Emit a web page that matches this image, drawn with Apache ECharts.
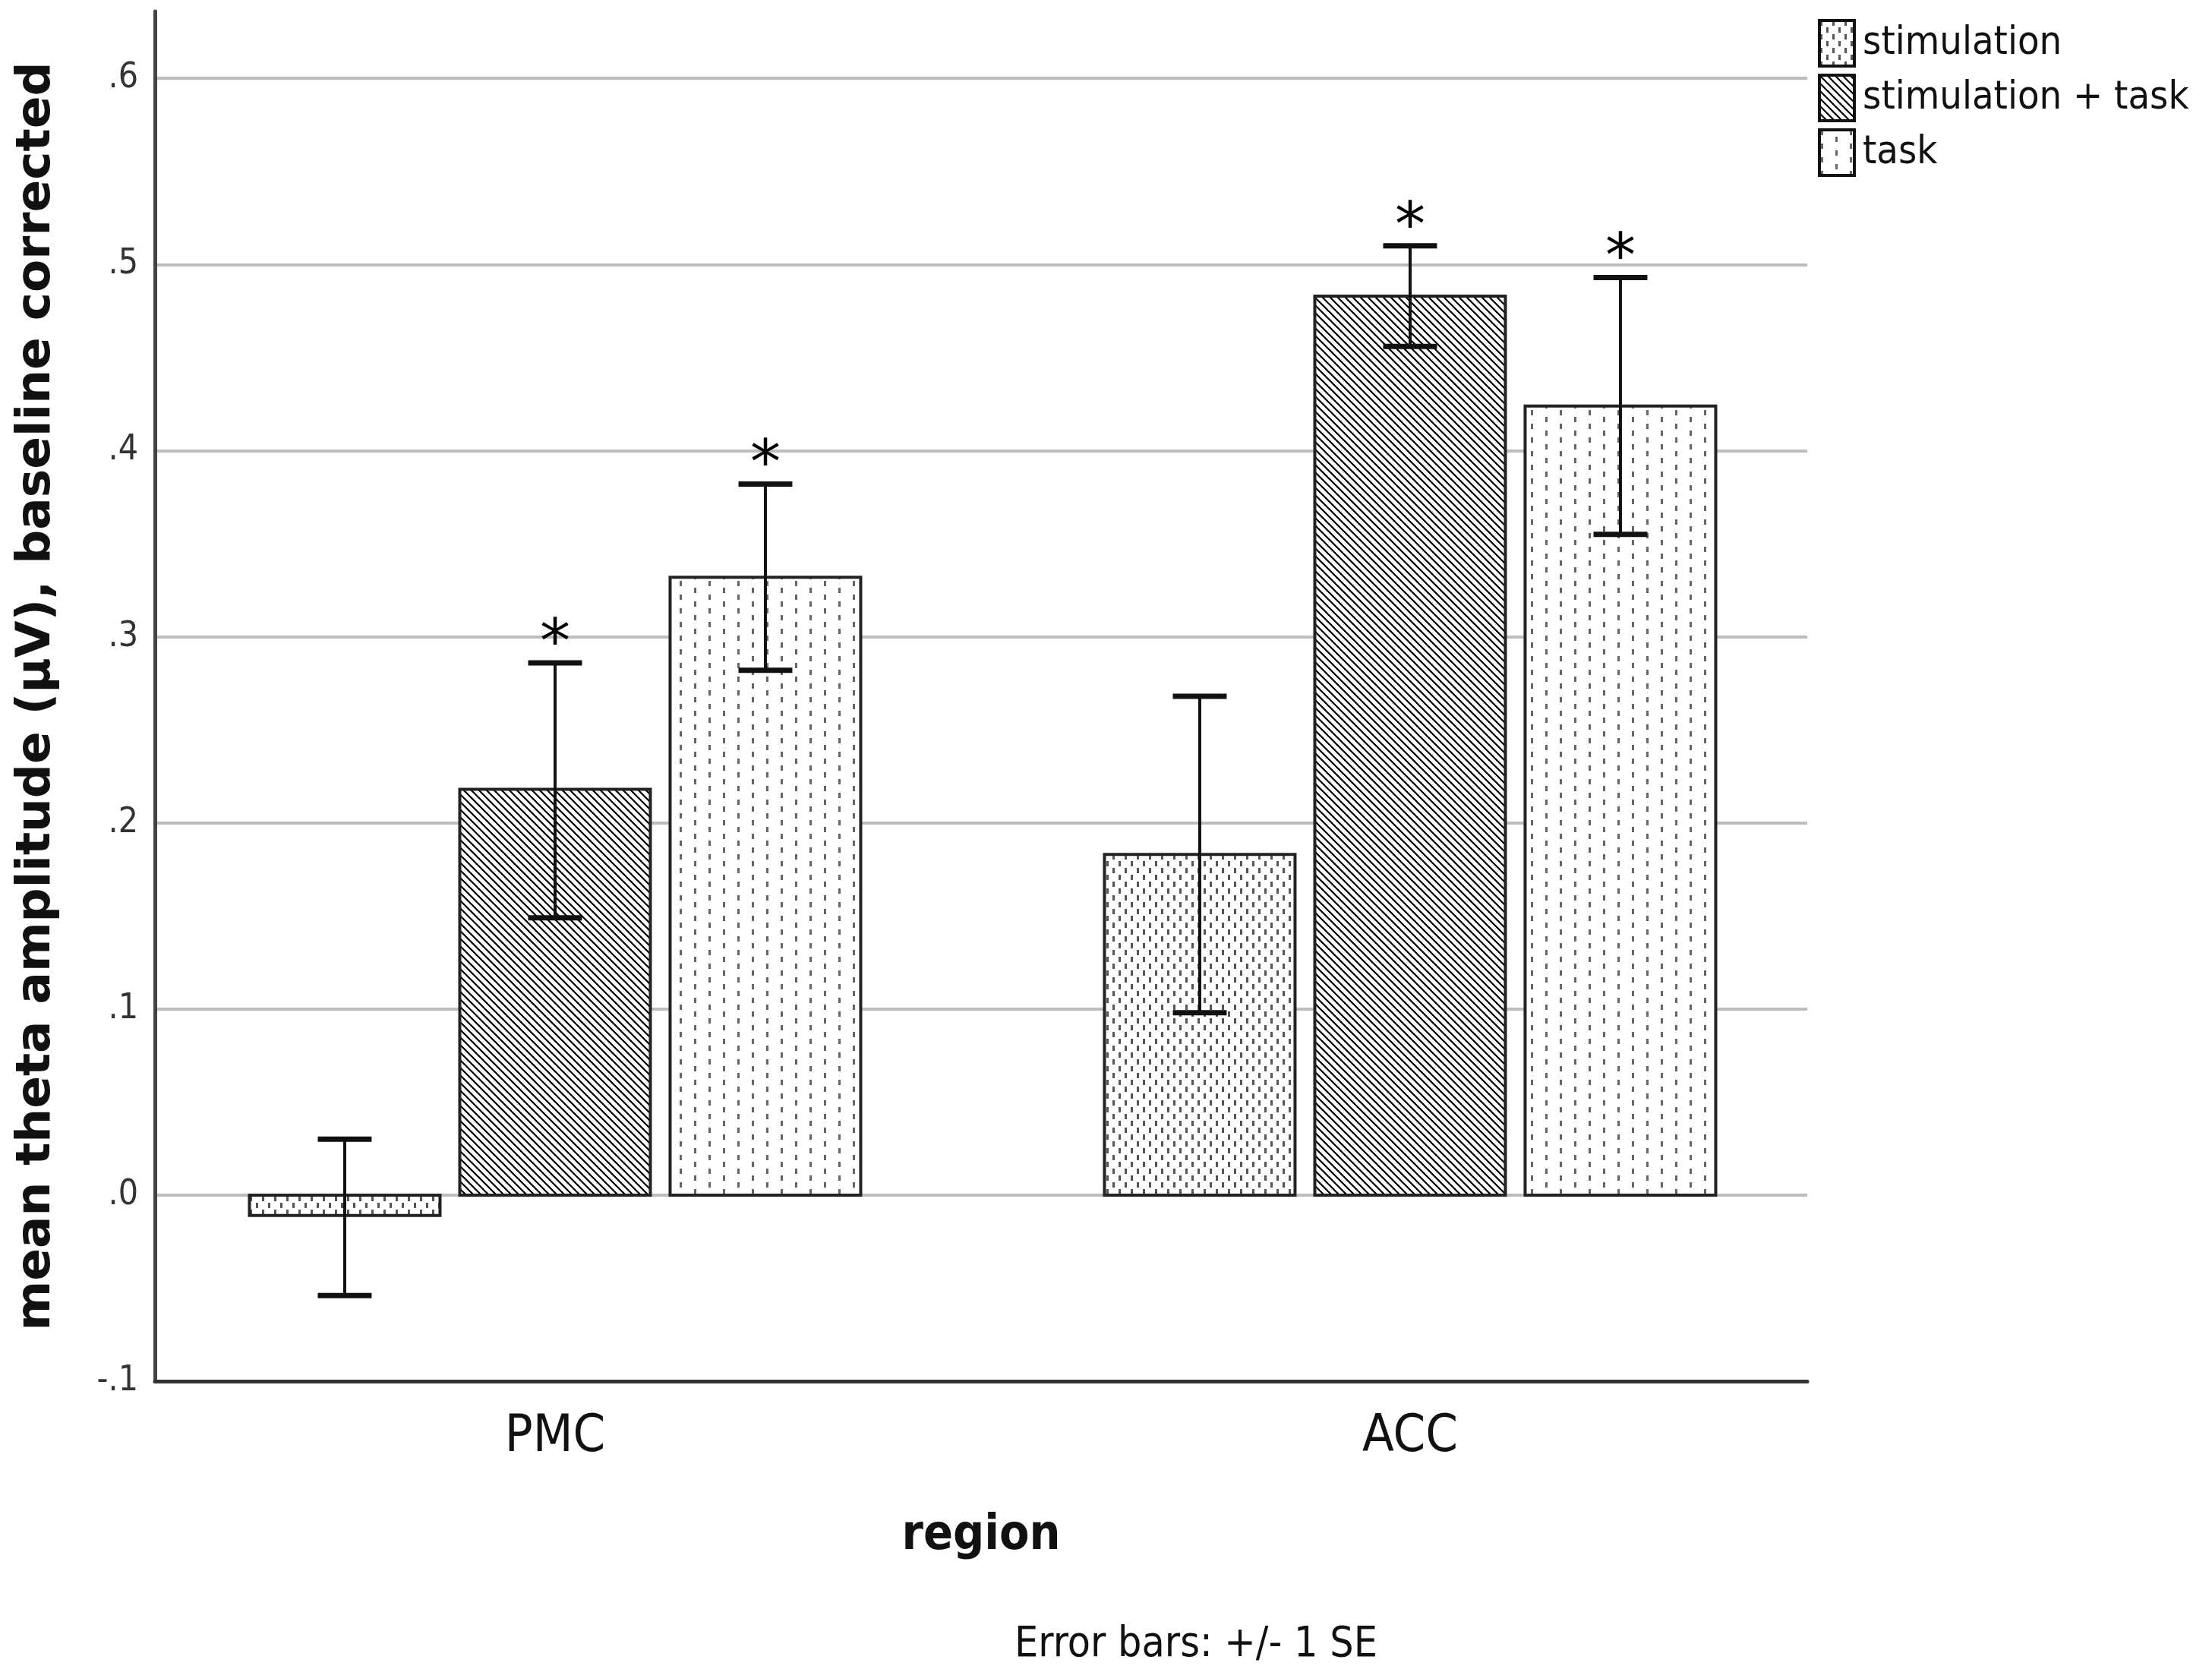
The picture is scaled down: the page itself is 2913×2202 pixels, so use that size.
<!DOCTYPE html>
<html>
<head>
<meta charset="utf-8">
<script src="https://cdn.jsdelivr.net/npm/echarts@6/dist/echarts.min.js"></script>
<style>
html,body{margin:0;padding:0;background:#fff;}
#chart{width:2913px;height:2202px;}
</style>
</head>
<body>
<div id="chart"></div>
<script>
// ---------- data ----------
const categories = ['PMC', 'ACC'];
const seriesNames = ['stimulation', 'stimulation + task', 'task'];
const meanStim     = [-0.011, 0.183];
const meanStimTask = [0.218, 0.483];
const meanTask     = [0.332, 0.424];
const lowStim      = [-0.054, 0.098];
const highStim     = [0.030, 0.268];
const lowStimTask  = [0.149, 0.456];
const highStimTask = [0.286, 0.510];
const lowTask      = [0.282, 0.355];
const highTask     = [0.382, 0.493];
const sigStim      = [false, false];
const sigStimTask  = [true, true];
const sigTask      = [true, true];
const yTicks = [-0.1, 0, 0.1, 0.2, 0.3, 0.4, 0.5, 0.6];

// ---------- styling helpers ----------
const NARROW = "'Liberation Sans Narrow', 'DejaVu Sans Condensed', 'Liberation Sans', sans-serif";
const BAR_W = 0.2229;      // bar width in category units
const STEP = 0.246;        // distance between bar centres
const CAP_W = 0.063;       // error cap width
const OFFS = [-STEP, 0, STEP];

function makePattern(w, h, draw) {
  const c = document.createElement('canvas');
  c.width = w; c.height = h;
  const ctx = c.getContext('2d');
  ctx.fillStyle = '#fff';
  ctx.fillRect(0, 0, w, h);
  draw(ctx);
  return { image: c, repeat: 'repeat' };
}
const patStim = makePattern(16, 18, ctx => {
  ctx.fillStyle = '#555';
  ctx.fillRect(1, 0, 3, 7);
  ctx.fillRect(9, 9, 3, 7);
});
const patStimTask = makePattern(10, 10, ctx => {
  ctx.strokeStyle = '#000';
  ctx.lineWidth = 2.2;
  for (let k = -1; k <= 1; k++) {
    ctx.beginPath();
    ctx.moveTo(k * 10 - 5, -5);
    ctx.lineTo(k * 10 + 15, 15);
    ctx.stroke();
  }
});
const patTask = makePattern(38, 18, ctx => {
  ctx.fillStyle = '#666';
  ctx.fillRect(2, 0, 3, 7);
  ctx.fillRect(21, 9, 3, 7);
});
const patterns = [patStim, patStimTask, patTask];

const means = [meanStim, meanStimTask, meanTask];
const lows = [lowStim, lowStimTask, lowTask];
const highs = [highStim, highStimTask, highTask];
const sigs = [sigStim, sigStimTask, sigTask];

function barSeries(i) {
  return {
    type: 'custom',
    name: seriesNames[i],
    itemStyle: { color: patterns[i] },
    z: 3,
    data: categories.map((c, j) => [j, means[i][j]]),
    encode: { x: 0, y: 1 },
    renderItem: function (params, api) {
      const x = api.value(0) + OFFS[i];
      const v = api.value(1);
      const p0 = api.coord([x - BAR_W / 2, 0]);
      const p1 = api.coord([x + BAR_W / 2, v]);
      return {
        type: 'rect',
        shape: { x: p0[0], y: Math.min(p0[1], p1[1]), width: p1[0] - p0[0], height: Math.abs(p1[1] - p0[1]) },
        style: { fill: patterns[i], stroke: '#222', lineWidth: 4 }
      };
    }
  };
}
function errSeries(i) {
  return {
    type: 'custom',
    name: 'err' + i,
    z: 5,
    data: categories.map((c, j) => [j, lows[i][j], highs[i][j], sigs[i][j] ? 1 : 0]),
    encode: { x: 0, y: [1, 2] },
    renderItem: function (params, api) {
      const x = api.value(0) + OFFS[i];
      const lo = api.coord([x, api.value(1)]);
      const hi = api.coord([x, api.value(2)]);
      const cl = api.coord([x - CAP_W / 2, api.value(2)]);
      const cr = api.coord([x + CAP_W / 2, api.value(2)]);
      const ls = { stroke: '#111', lineWidth: 4 };
      const cs = { stroke: '#111', lineWidth: 7 };
      const children = [
        { type: 'line', shape: { x1: lo[0], y1: lo[1], x2: hi[0], y2: hi[1] }, style: ls },
        { type: 'line', shape: { x1: cl[0], y1: hi[1], x2: cr[0], y2: hi[1] }, style: cs },
        { type: 'line', shape: { x1: cl[0], y1: lo[1], x2: cr[0], y2: lo[1] }, style: cs }
      ];
      if (api.value(3) === 1) {
        children.push({
          type: 'text',
          style: { text: '*', x: hi[0], y: hi[1] - 22, align: 'center', verticalAlign: 'middle',
                   font: '80px "DejaVu Sans", sans-serif', fill: '#000' }
        });
      }
      return { type: 'group', children: children };
    }
  };
}

function fmtY(v) {
  const n = Number(v.toFixed(1));
  if (n === 0) return '.0';
  const s = Math.abs(n).toFixed(1).replace(/^0/, '');
  return n < 0 ? '-' + s : s;
}

const chart = echarts.init(document.getElementById('chart'));
chart.setOption({
  backgroundColor: '#fff',
  animation: false,
  title: {
    text: 'Error bars: +/- 1 SE',
    left: 1570, top: 2134, textAlign: 'center',
    textStyle: { fontFamily: NARROW, fontWeight: 'normal', fontSize: 55, color: '#111' }
  },
  legend: {
    orient: 'vertical',
    left: 2389, top: 20,
    itemWidth: 46, itemHeight: 60, itemGap: 8,
    icon: 'rect',
    textStyle: { fontFamily: NARROW, fontSize: 52, color: '#111', padding: [0, 0, 0, 6] },
    data: seriesNames.map((n, i) => ({ name: n, icon: 'rect',
      itemStyle: { color: patterns[i], borderColor: '#111', borderWidth: 4 } }))
  },
  grid: { left: 204, right: 533, top: 15, bottom: 383 },
  xAxis: {
    type: 'value',
    min: -0.468, max: 1.4645,
    name: 'region', nameLocation: 'middle', nameGap: 172,
    nameTextStyle: { fontFamily: NARROW, fontWeight: 'bold', fontSize: 64, color: '#111' },
    axisLine: { onZero: false, lineStyle: { color: '#333', width: 5 } },
    axisTick: { show: false },
    splitLine: { show: false },
    axisLabel: {
      customValues: [0, 1],
      formatter: v => categories[Math.round(v)] || '',
      margin: 40,
      fontFamily: NARROW, fontSize: 68, color: '#111'
    }
  },
  yAxis: {
    type: 'value',
    min: -0.1, max: 0.636, interval: 0.1,
    name: 'mean theta amplitude (µV), baseline corrected',
    nameLocation: 'middle', nameGap: 124, nameRotate: 90,
    nameTextStyle: { fontFamily: "'DejaVu Sans', sans-serif", fontWeight: 'bold', fontSize: 63, color: '#111' },
    axisLine: { show: true, onZero: false, lineStyle: { color: '#444', width: 5 } },
    axisTick: { show: false },
    axisLabel: {
      formatter: fmtY, margin: 22, showMaxLabel: false,
      fontFamily: NARROW, fontSize: 46, color: '#333'
    },
    splitLine: { show: true, showMaxLine: false, lineStyle: { color: '#bcbcbc', width: 4 } }
  },
  series: [barSeries(0), barSeries(1), barSeries(2), errSeries(0), errSeries(1), errSeries(2)]
});
</script>
</body>
</html>
